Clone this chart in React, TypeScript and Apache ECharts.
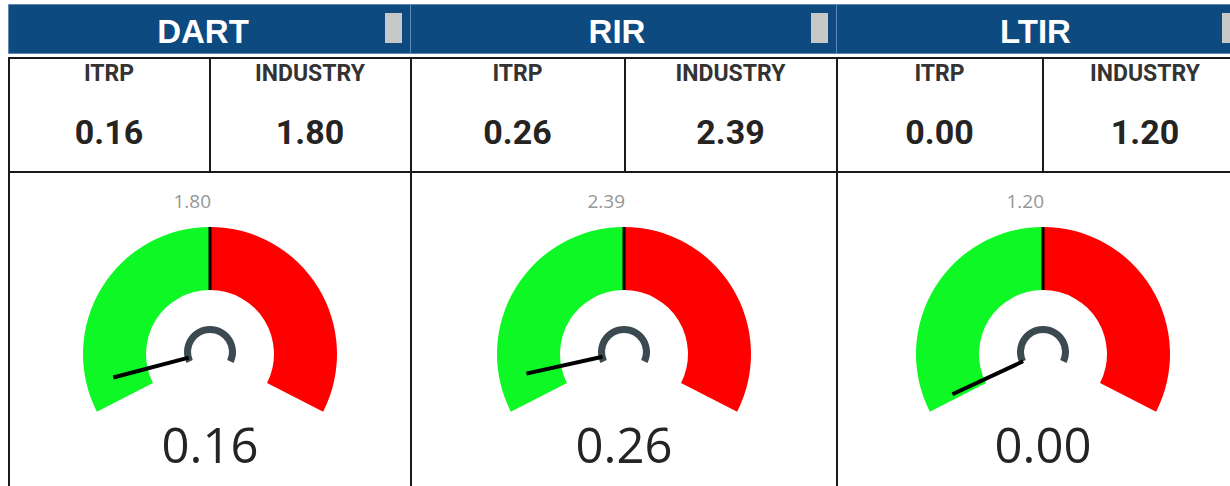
import React, { useEffect, useRef } from "react";
import * as echarts from "echarts";

// ---- data ----
const metrics = ["DART", "RIR", "LTIR"];
const columnLabels = ["ITRP", "INDUSTRY"];
const itrpValues = [0.16, 0.26, 0.0];
const industryValues = [1.8, 2.39, 1.2];

// ---- layout ----
const panelLeft = [8, 410, 836];
const panelRight = [410, 836, 1247];
const dividerX = [210, 625, 1043];
const gaugeCx = [210, 624, 1043];
const gaugeCy = 354;
const pivotCy = 352;
const HEADER_BG = "#0c4a80";
const GREEN = "#0df824";
const RED = "#ff0000";
const TEXT_DARK = "#252423";

export default function App() {
  const ref = useRef<HTMLDivElement>(null);

  useEffect(() => {
    if (!ref.current) return;
    const chart = echarts.init(ref.current, undefined, { renderer: "svg" });

    const graphics: any[] = [];
    metrics.forEach((m, i) => {
      const pl = panelLeft[i];
      const pr = panelRight[i];
      graphics.push({
        type: "rect",
        shape: { x: pl + 0.5, y: 4.5, width: pr - pl, height: 49 },
        style: { fill: HEADER_BG, stroke: "#6088b4", lineWidth: 1 },
      });
      graphics.push({
        type: "rect",
        shape: { x: pr - 25, y: 13, width: 17, height: 30 },
        style: { fill: "#c8c8c8" },
      });
      graphics.push({
        type: "text",
        style: {
          text: m,
          x: (pl + pr - 12) / 2,
          y: 31,
          textAlign: "center",
          textVerticalAlign: "middle",
          fill: "#ffffff",
          fontFamily: "Liberation Sans, Arial, sans-serif",
          fontWeight: "bold",
          fontSize: 33,
        },
      });
      // table texts
      const cells = [
        { x: (pl + dividerX[i]) / 2, v: itrpValues[i], label: columnLabels[0] },
        { x: (dividerX[i] + pr) / 2, v: industryValues[i], label: columnLabels[1] },
      ];
      cells.forEach((c) => {
        graphics.push({
          type: "text",
          style: {
            text: c.label,
            x: c.x,
            y: 73,
            textAlign: "center",
            textVerticalAlign: "middle",
            fill: "#333333",
            fontFamily: "Roboto, sans-serif",
            fontWeight: "bold",
            fontSize: 23,
          },
        });
        graphics.push({
          type: "text",
          style: {
            text: c.v.toFixed(2),
            x: c.x,
            y: 132,
            textAlign: "center",
            textVerticalAlign: "middle",
            fill: TEXT_DARK,
            fontFamily: "Roboto, sans-serif",
            fontWeight: "bold",
            fontSize: 34,
          },
        });
      });
      // target label above gauge
      graphics.push({
        type: "text",
        style: {
          text: industryValues[i].toFixed(2),
          x: gaugeCx[i] + 1,
          y: 201,
          textAlign: "right",
          textVerticalAlign: "middle",
          fill: "#969696",
          fontFamily: "Open Sans, sans-serif",
          fontSize: 19,
        },
      });
      // vertical borders
      graphics.push({
        type: "line",
        shape: { x1: dividerX[i], y1: 57, x2: dividerX[i], y2: 173 },
        style: { stroke: "#1a1a1a", lineWidth: 2 },
      });
      graphics.push({
        type: "line",
        shape: { x1: pl + 1, y1: 57, x2: pl + 1, y2: 490 },
        style: { stroke: "#1a1a1a", lineWidth: 2 },
      });
    });
    graphics.push({
      type: "line",
      shape: { x1: 8, y1: 58, x2: 1240, y2: 58 },
      style: { stroke: "#1a1a1a", lineWidth: 2 },
    });
    graphics.push({
      type: "line",
      shape: { x1: 8, y1: 172, x2: 1240, y2: 172 },
      style: { stroke: "#1a1a1a", lineWidth: 2 },
    });

    const series: any[] = [];
    const hidden = {
      axisTick: { show: false },
      splitLine: { show: false },
      axisLabel: { show: false },
      title: { show: false },
      anchor: { show: false },
      progress: { show: false },
    };
    metrics.forEach((m, i) => {
      const max = industryValues[i] * 2;
      // main coloured band + value text
      series.push({
        type: "gauge",
        name: m,
        center: [gaugeCx[i], gaugeCy],
        radius: 127,
        startAngle: 207,
        endAngle: -27,
        min: 0,
        max,
        ...hidden,
        axisLine: {
          lineStyle: { width: 63, color: [[0.5, GREEN], [1, RED]] },
        },
        pointer: { show: false },
        detail: {
          show: true,
          offsetCenter: [0, 90],
          formatter: (v: number) => v.toFixed(2),
          color: TEXT_DARK,
          fontFamily: "Open Sans, sans-serif",
          fontWeight: 400,
          fontSize: 49,
        },
        data: [{ value: itrpValues[i], name: m }],
      });
      // target marker line
      series.push({
        type: "gauge",
        center: [gaugeCx[i], gaugeCy],
        radius: 127,
        startAngle: 207,
        endAngle: -27,
        min: 0,
        max,
        ...hidden,
        axisLine: { show: false },
        pointer: {
          show: true,
          icon: "rect",
          width: 3,
          length: 63,
          offsetCenter: [0, -64],
          itemStyle: { color: "#000000" },
        },
        detail: { show: false },
        data: [{ value: industryValues[i], name: "Industry" }],
      });
      // needle + pivot ring
      series.push({
        type: "gauge",
        center: [gaugeCx[i], pivotCy],
        radius: 26,
        startAngle: 205,
        endAngle: -25,
        min: 0,
        max,
        ...hidden,
        axisLine: { lineStyle: { width: 7, color: [[1, "#3b4a50"]] } },
        pointer: {
          show: true,
          icon: "rect",
          width: 4,
          length: 78,
          offsetCenter: [0, -22],
          itemStyle: { color: "#000000" },
        },
        detail: { show: false },
        data: [{ value: itrpValues[i], name: "ITRP" }],
      });
    });

    chart.setOption({
      animation: false,
      backgroundColor: "#ffffff",
      graphic: graphics,
      series,
    });

    return () => chart.dispose();
  }, []);

  return (
    <div
      ref={ref}
      style={{ position: "absolute", left: 0, top: 0, width: 1230, height: 486 }}
    />
  );
}
